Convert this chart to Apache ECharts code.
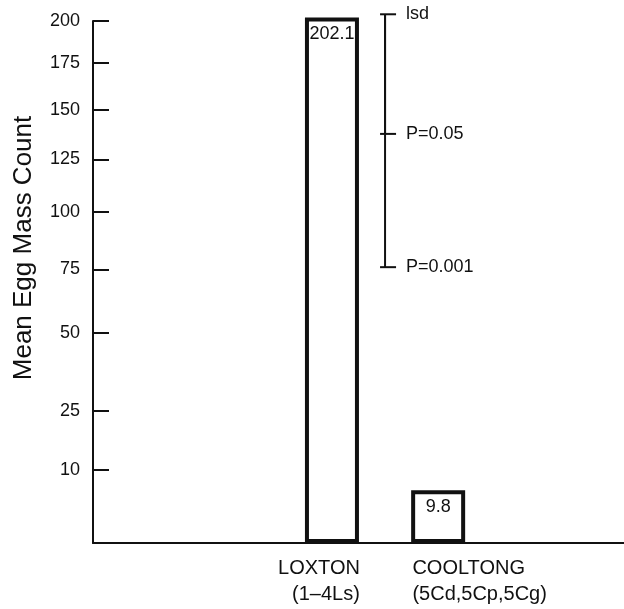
<!DOCTYPE html>
<html>
<head>
<meta charset="utf-8">
<script src="https://cdn.jsdelivr.net/npm/echarts@6/dist/echarts.min.js"></script>
<style>
  html, body { margin: 0; padding: 0; background: #fff; }
  #chart { width: 624px; height: 609px; }
</style>
</head>
<body>
<div id="chart"></div>
<script>
// data
const categories = ['LOXTON\n(1–4Ls)', 'COOLTONG\n(5Cd,5Cp,5Cg)']
const eggMassCounts = [202.1, 9.8]
const yTickLabels = [10, 25, 50, 75, 100, 125, 150, 175, 200]
const lsdNames = ['lsd', 'P=0.05', 'P=0.001']
const lsdLevels = [204, 138, 76]

// the printed y scale is not linear: height of each tick above the x axis
const yTickHeights = [73, 132.3, 210.3, 273.7, 331, 383.7, 433, 480.3, 522.3]
const yAxisFloor = 9.28 // value sitting on the x axis line

function scaleY(v) {
  const xs = [yAxisFloor].concat(yTickLabels)
  const hs = [0].concat(yTickHeights)
  let i = 0
  while (i < xs.length - 2 && v > xs[i + 1]) i++
  return hs[i] + (v - xs[i]) * (hs[i + 1] - hs[i]) / (xs[i + 1] - xs[i])
}

const font = "'Liberation Sans', Arial, sans-serif"
const ink = '#111'

// categories sit in a row of empty slots so the bars land where the figure has them
const slotCount = 10
const slotOf = [4, 6]
const lsdSlot = 5
const slots = []
const barData = []
for (let i = 0; i < slotCount; i++) {
  const c = slotOf.indexOf(i)
  if (c < 0) {
    slots.push('')
    barData.push('-')
  } else {
    slots.push({
      value: categories[c],
      textStyle: c === 0 ? { padding: [0, 26, 0, 0] } : { padding: [0, 0, 0, 83] }
    })
    barData.push(scaleY(eggMassCounts[c]))
  }
}
const tickPos = yTickLabels.map(scaleY)

const chart = echarts.init(document.getElementById('chart'))
chart.setOption({
  animation: false,
  backgroundColor: '#fff',
  textStyle: { fontFamily: font, color: ink },
  grid: { left: 93, right: -8, top: 21, bottom: 66 },
  xAxis: {
    type: 'category',
    data: slots,
    boundaryGap: true,
    axisLine: { lineStyle: { color: ink, width: 2 } },
    axisTick: { show: false },
    axisLabel: {
      interval: 0,
      margin: 12,
      formatter: function(val) {
        if (!val) return ''
        const parts = val.split('\n')
        const k = categories.indexOf(val) === 0 ? 'r' : 'l'
        return '{' + k + '|' + parts[0] + '}\n{' + k + '|' + parts[1] + '}'
      },
      rich: {
        r: { align: 'right', fontSize: 20, lineHeight: 26, fontFamily: font, color: ink },
        l: { align: 'left', fontSize: 20, lineHeight: 26, fontFamily: font, color: ink }
      }
    }
  },
  yAxis: {
    type: 'value',
    min: 0,
    max: scaleY(200),
    name: 'Mean Egg Mass Count',
    nameLocation: 'middle',
    nameGap: 56,
    nameTextStyle: { fontSize: 26, fontFamily: font, color: ink, padding: [0, 0, 0, 68] },
    axisLine: { show: true, lineStyle: { color: ink, width: 2 } },
    axisTick: { show: true, inside: true, length: 16, customValues: tickPos, lineStyle: { color: ink, width: 2 } },
    axisLabel: {
      customValues: tickPos,
      margin: 13,
      fontSize: 18,
      fontFamily: font,
      color: ink,
      formatter: function(v) {
        const i = tickPos.indexOf(v)
        return i < 0 ? '' : String(yTickLabels[i])
      }
    },
    splitLine: { show: false }
  },
  series: [
    {
      type: 'bar',
      data: barData,
      barWidth: 54,
      clip: false,
      itemStyle: { color: '#fff', borderColor: ink, borderWidth: 4 },
      label: {
        show: true,
        position: 'insideTop',
        distance: 8,
        fontSize: 18,
        fontFamily: font,
        color: ink,
        formatter: function(p) {
          return String(eggMassCounts[slotOf.indexOf(p.dataIndex)])
        }
      }
    },
    {
      type: 'custom',
      clip: false,
      data: lsdLevels.map(function(v, i) { return [lsdSlot, scaleY(v), i] }),
      renderItem: function(params, api) {
        const p = api.coord([api.value(0), api.value(1)])
        const top = api.coord([lsdSlot, scaleY(lsdLevels[0])])
        const i = api.value(2)
        return {
          type: 'group',
          children: [
            { type: 'line', shape: { x1: p[0], y1: top[1], x2: p[0], y2: p[1] }, style: { stroke: ink, lineWidth: 2 } },
            { type: 'line', shape: { x1: p[0] - 5, y1: p[1], x2: p[0] + 11, y2: p[1] }, style: { stroke: ink, lineWidth: 2 } },
            {
              type: 'text',
              style: {
                text: lsdNames[i], x: p[0] + 21, y: p[1],
                verticalAlign: 'middle', fontSize: 18, fontFamily: font, fill: ink
              }
            }
          ]
        }
      }
    }
  ]
})
</script>
</body>
</html>
